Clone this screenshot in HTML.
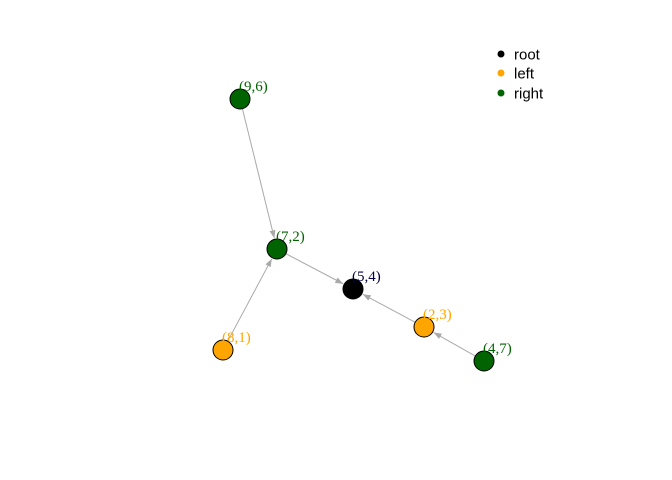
<!DOCTYPE html>
<html><head><meta charset="utf-8"><style>
body{margin:0;background:#fff;width:672px;height:480px;overflow:hidden}
svg{display:block}
</style></head><body>
<svg id="chart" width="672" height="480" viewBox="0 0 672 480">
<defs><marker id="arr" markerWidth="8" markerHeight="6" refX="8" refY="3" orient="auto" markerUnits="userSpaceOnUse"><path d="M0,0 L8,3 L0,6 Z" fill="#a9a9a9"/></marker></defs>
<g id="edges"></g><g id="nodes"></g>
<g font-family="Liberation Sans, sans-serif" font-size="15">
<circle cx="501" cy="54" r="3.5" fill="#000"/><text x="514" y="59.5">root</text>
<circle cx="501" cy="73" r="3.5" fill="#ffa500"/><text x="514" y="78.5">left</text>
<circle cx="501" cy="93" r="3.5" fill="#006400"/><text x="514" y="98.5">right</text>
</g>
</svg>
<script>
const labels = ["(5,4)","(7,2)","(9,6)","(8,1)","(2,3)","(4,7)"];
const types = ["root","right","right","left","left","right"];
const layoutX = [353,277,240,223,424,484];
const layoutY = [289,249,99,350,327,361];
const edgeFrom = [2,3,1,4,5];
const edgeTo = [1,1,0,0,4];
const colors = {root:"#000000",left:"#ffa500",right:"#006400"};
const NS="http://www.w3.org/2000/svg";
const eg=document.getElementById('edges'), ng=document.getElementById('nodes');
const R=10;
edgeFrom.forEach((f,i)=>{
  const t=edgeTo[i];
  const x1=layoutX[f],y1=layoutY[f],x2=layoutX[t],y2=layoutY[t];
  const d=Math.hypot(x2-x1,y2-y1), ux=(x2-x1)/d, uy=(y2-y1)/d;
  const l=document.createElementNS(NS,'line');
  
  
  l.setAttribute('x1',x1+ux*R);l.setAttribute('y1',y1+uy*R);
  l.setAttribute('x2',x2-ux*(R+1));l.setAttribute('y2',y2-uy*(R+1));
  l.setAttribute('stroke','#a9a9a9');l.setAttribute('stroke-width','1');
  l.setAttribute('marker-end','url(#arr)');
  eg.appendChild(l);
});
labels.forEach((lab,i)=>{
  const c=document.createElementNS(NS,'circle');
  
  
  c.setAttribute('cx',layoutX[i]);c.setAttribute('cy',layoutY[i]);c.setAttribute('r',R);
  c.setAttribute('fill',colors[types[i]]);c.setAttribute('stroke','#000');
  ng.appendChild(c);
  const tx=document.createElementNS(NS,'text');
  
  
  tx.setAttribute('x',layoutX[i]-1);tx.setAttribute('y',layoutY[i]-8);
  tx.setAttribute('font-family','Liberation Serif, serif');tx.setAttribute('font-size','15');
  tx.setAttribute('fill',types[i]==='root'?'#000040':colors[types[i]]);
  tx.textContent=lab;
  ng.appendChild(tx);
});
</script>
</body></html>
